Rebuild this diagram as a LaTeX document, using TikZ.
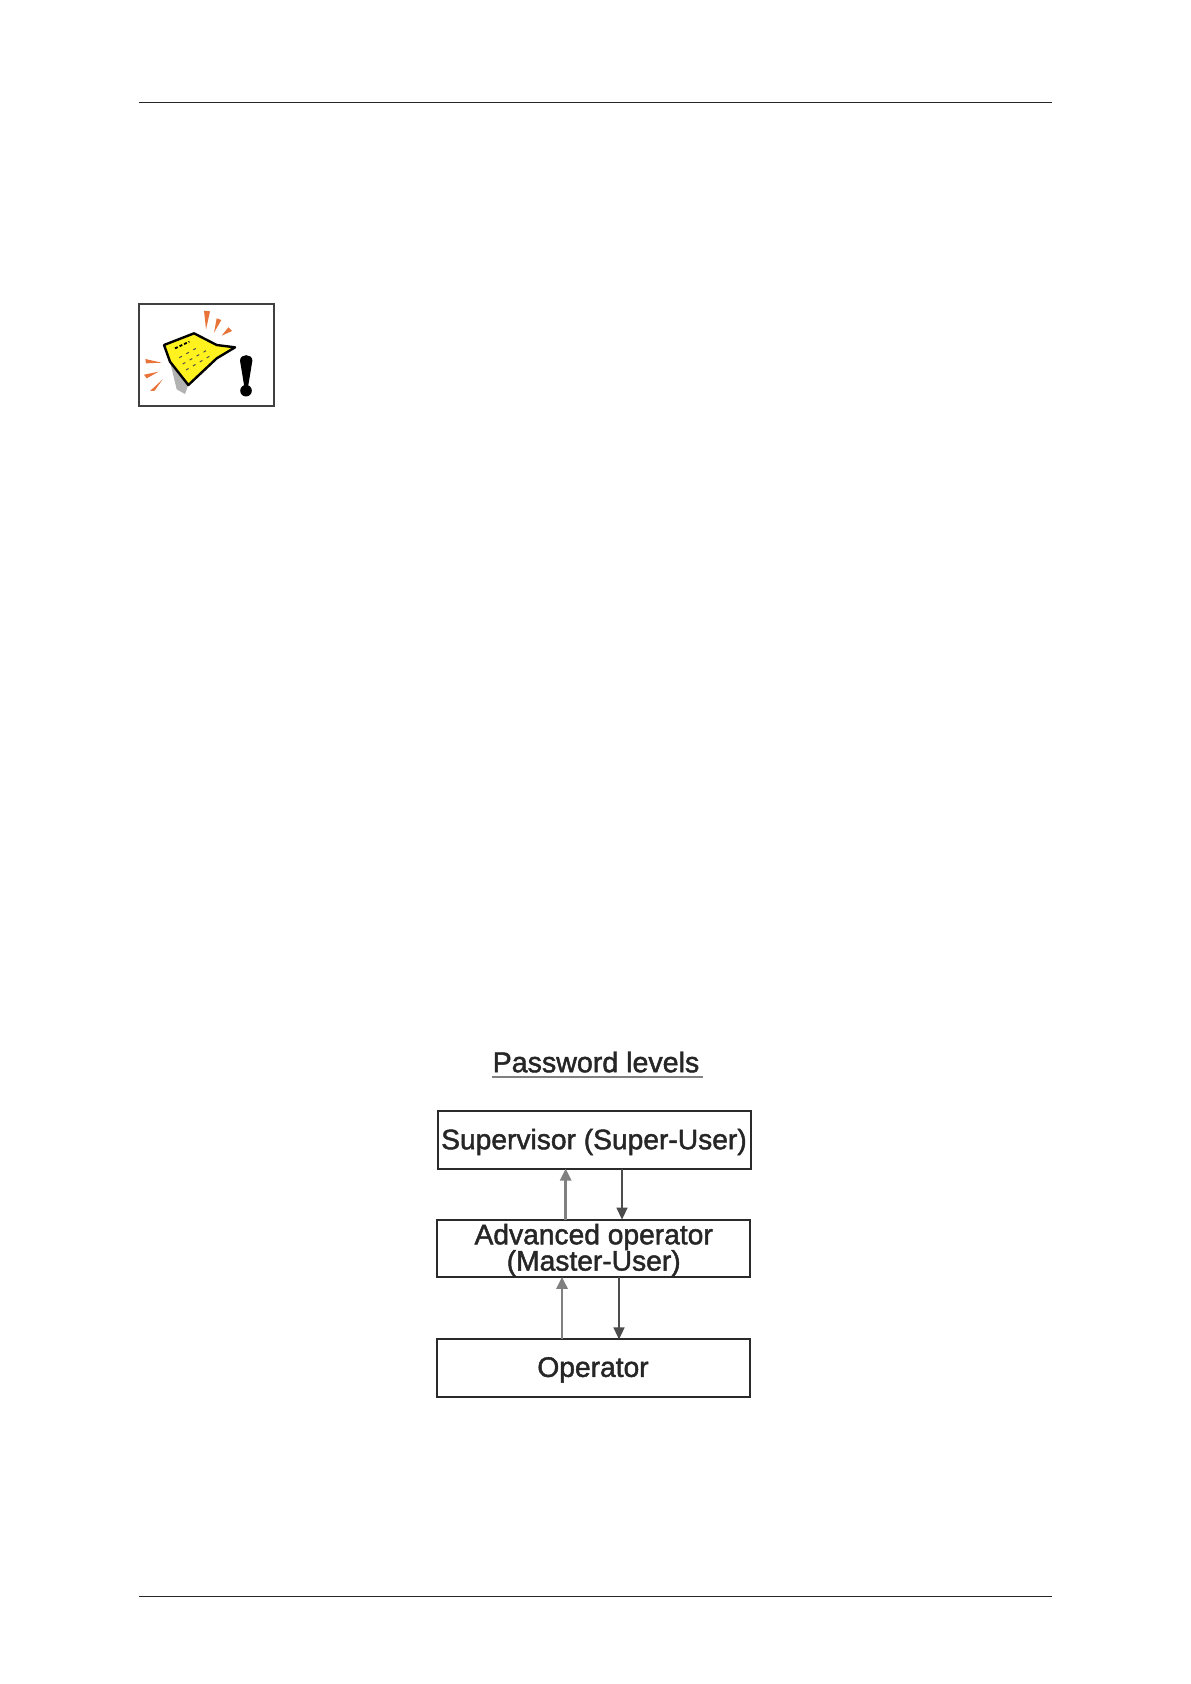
\documentclass[tikz,border=0pt]{standalone}
\usepackage{fontspec}
\setmainfont{Liberation Sans}
\newfontfamily\levelfont[FakeBold=1.6]{Liberation Sans}
\usetikzlibrary{arrows.meta, positioning}
\definecolor{BoxLine}{HTML}{2A2A2A}
\definecolor{NoteYellow}{HTML}{FFF21E}
\definecolor{RayOrange}{HTML}{E8743A}
\begin{document}
\begin{tikzpicture}[
        x=0.5pt, y=-0.5pt,
        level/.style={rectangle, draw=BoxLine, line width=1pt, minimum width=156.5pt, minimum height=28.6pt, inner sep=0pt, outer sep=0pt, align=center, text depth=1pt, font=\levelfont\fontsize{14.1}{13}\selectfont, text=black!85},
        uparr/.style={-{Triangle[length=6pt, width=5.5pt]}, line width=1.3pt, black!50},
        downarr/.style={-{Triangle[length=6pt, width=5.5pt]}, line width=0.7pt, black!70},
        rule/.style={line width=0.5pt, black!85},
        ray/.style={fill=RayOrange, draw=none}
      ]
        \useasboundingbox (0,0) rectangle (1190,1684);

        % page rules
        \coordinate (headl) at (138.5,103);
        \coordinate (headr) at (1052,103);
        \coordinate (footl) at (138.5,1596);
        \coordinate (footr) at (1052,1596);
        \draw[rule] (headl) -- (headr);
        \draw[rule] (footl) -- (footr);

        % note icon
        \node[draw=black!75, line width=0.6pt, minimum width=67.5pt, minimum height=51pt, inner sep=0pt] (icon) at (206.5,355) {};
        \begin{scope}[shift={(120,290)}, x=0.1667pt, y=-0.1667pt]
          \fill[black!30] (150,215) -- (205,285) -- (195,312) -- (170,298) -- cycle;
          \draw[fill=NoteYellow, draw=black, line width=1.2pt, line join=round] (132,165) -- (222,130) -- (290,165) -- (345,172) -- (290,205) -- (205,285) -- (150,215) -- cycle;
          \fill[ray] (252,62) -- (270,64) -- (258,118) -- cycle;
          \fill[ray] (290,85) -- (304,90) -- (282,128) -- cycle;
          \fill[ray] (325,112) -- (336,123) -- (305,137) -- cycle;
          \fill[ray] (76,207) -- (125,218) -- (78,220) -- cycle;
          \fill[ray] (72,254) -- (116,245) -- (80,265) -- cycle;
          \fill[ray] (128,268) -- (104,302) -- (90,303) -- cycle;
          \draw[black, line width=0.9pt, dash pattern=on 1.5pt off 1pt] (165,175) -- (208,155);
          \draw[black!70, line width=0.5pt, dash pattern=on 1.5pt off 2.5pt] (178,203) -- (228,175);
          \draw[black!70, line width=0.5pt, dash pattern=on 1.5pt off 2.5pt] (188,222) -- (258,182);
          \draw[black!70, line width=0.5pt, dash pattern=on 1.5pt off 2.5pt] (198,240) -- (275,195);
          \fill[black] (360,212) .. controls (360,190) and (397,190) .. (397,212) -- (385,285) -- (372,285) -- cycle;
          \fill[black] (378,302) circle[radius=2.9pt];
        \end{scope}

        % password levels
        \node[inner sep=0pt, outer sep=0pt, font=\levelfont\fontsize{14.3}{13}\selectfont, text=black!85] (title) at (596,1062) {Password levels};
        \draw[line width=1.1pt, black!50] ([xshift=-0.5pt, yshift=-2.2pt]title.south west) -- ([xshift=2pt, yshift=-2.2pt]title.south east);

        \node[level] (sup) at (594,1140) {Supervisor (Super-User)};
        \node[level, below=25.5pt of sup, xshift=-0.15pt] (adv) {Advanced operator \\[-1pt] (Master-User)};
        \node[level, below=31.3pt of adv, xshift=-0.35pt] (op) {Operator};

        \draw[uparr] ([xshift=-14pt]adv.north) -- ([xshift=-14pt]adv.north |- sup.south);
        \draw[downarr] ([xshift=14pt]sup.south) -- ([xshift=14pt]sup.south |- adv.north);
        \draw[uparr] ([xshift=-15.5pt]op.north) -- ([xshift=-15.5pt]op.north |- adv.south);
        \draw[downarr] ([xshift=12.65pt]adv.south) -- ([xshift=12.65pt]adv.south |- op.north);
      \end{tikzpicture}
\end{document}
